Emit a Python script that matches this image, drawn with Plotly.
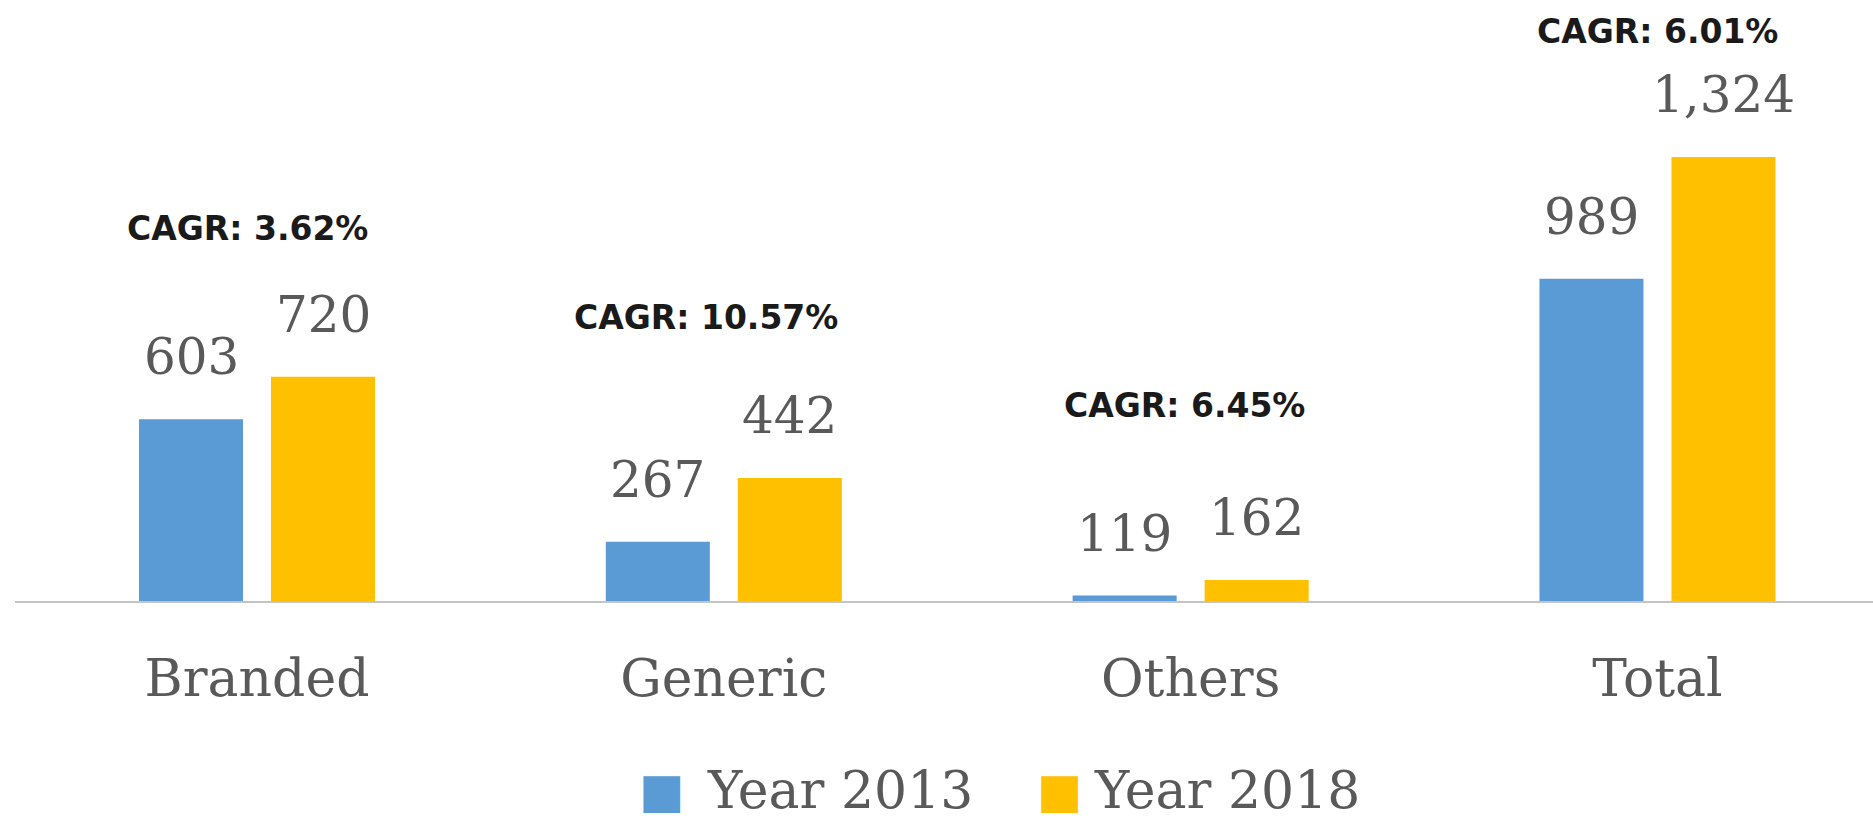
import plotly.graph_objects as go

# ---- data ----
categories = ["Branded", "Generic", "Others", "Total"]
series_names = ["Year 2013", "Year 2018"]
values_2013 = [603, 267, 119, 989]
values_2018 = [720, 442, 162, 1324]
value_labels_2013 = ["603", "267", "119", "989"]
value_labels_2018 = ["720", "442", "162", "1,324"]
cagr_labels = ["CAGR: 3.62%", "CAGR: 10.57%", "CAGR: 6.45%", "CAGR: 6.01%"]
cagr_label_y = [1126, 884, 642, 1668]
cagr_label_dx = [-10, -18, -6, 0]

# ---- styles ----
BLUE = "#5b9bd5"
GOLD = "#ffc000"
GREY_TEXT = "#595959"
SERIF = "DejaVu Serif"
W, H = 1873, 822
ML, MR, MT, MB = 15, 0, 0, 221

fig = go.Figure()
fig.add_trace(go.Bar(x=categories, y=values_2013, name=series_names[0],
                     marker=dict(color=BLUE, line=dict(width=0)), showlegend=False))
fig.add_trace(go.Bar(x=categories, y=values_2018, name=series_names[1],
                     marker=dict(color=GOLD, line=dict(width=0)), showlegend=False))

annotations = []
slot_shift = 66
for cat, v, t in zip(categories, values_2013, value_labels_2013):
    annotations.append(dict(x=cat, y=v, xref="x", yref="y", text=t, showarrow=False,
                            xshift=-slot_shift, yshift=31, yanchor="bottom",
                            font=dict(family=SERIF, size=50, color=GREY_TEXT)))
for cat, v, t in zip(categories, values_2018, value_labels_2018):
    annotations.append(dict(x=cat, y=v, xref="x", yref="y", text=t, showarrow=False,
                            xshift=slot_shift, yshift=31, yanchor="bottom",
                            font=dict(family=SERIF, size=50, color=GREY_TEXT)))
for cat, t, yy, dx in zip(categories, cagr_labels, cagr_label_y, cagr_label_dx):
    annotations.append(dict(x=cat, y=yy, xref="x", yref="y", text="<b>" + t + "</b>",
                            showarrow=False, xshift=dx, yanchor="middle",
                            font=dict(family="DejaVu Sans", size=33, color="#1a1a1a")))

# custom legend (large square swatches)
LEG_Y = -0.3145
legend_items = [(series_names[0], BLUE, 0.3477, 0.3714), (series_names[1], GOLD, 0.5619, 0.5797)]
for name, col, sx, tx in legend_items:
    annotations.append(dict(x=sx, y=LEG_Y, xref="paper", yref="paper", text="■",
                            showarrow=False, xanchor="center", yanchor="middle",
                            font=dict(family="DejaVu Sans", size=48, color=col)))
    annotations.append(dict(x=tx, y=LEG_Y, xref="paper", yref="paper", text=name,
                            showarrow=False, xanchor="left", yanchor="middle",
                            font=dict(family=SERIF, size=52, color=GREY_TEXT)))

fig.update_layout(
    width=W, height=H,
    margin=dict(l=ML, r=MR, t=MT, b=MB, pad=0),
    paper_bgcolor="white", plot_bgcolor="white",
    barmode="group", bargap=0.4344, bargroupgap=0.212,
    annotations=annotations,
    showlegend=False,
    xaxis=dict(range=[-0.5184, 3.4617], showline=True, linecolor="#c4c4c4", linewidth=2,
               showgrid=False, zeroline=False, ticks="outside", ticklen=31,
               tickcolor="rgba(0,0,0,0)",
               tickfont=dict(family=SERIF, size=52, color=GREY_TEXT)),
    yaxis=dict(range=[104, 1755], visible=False, showgrid=False, zeroline=False),
)

fig.write_html("out.html", config={"displayModeBar": False},
               post_script="document.body.style.margin='0';document.body.style.overflow='hidden';")
